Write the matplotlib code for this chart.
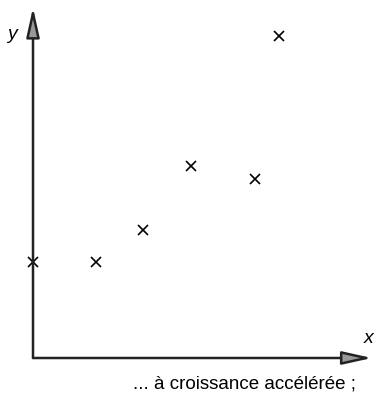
import matplotlib
matplotlib.use("Agg")
import matplotlib.pyplot as plt

# Observations: x and y values
x_vals = [0.0, 1.0, 1.75, 2.5, 3.52, 3.9]
y_vals = [3.0, 3.0, 4.0, 6.0, 5.6, 10.05]

caption = "... à croissance accélérée ;"

fig = plt.figure(figsize=(3.79, 3.98), dpi=100)
ax = fig.add_axes([0, 0, 1, 1])
ax.set_xlim(-33 / 63, 346 / 63)
ax.set_ylim(-40 / 32, 358 / 32)
ax.axis("off")

axis_color = "#5a5a5a"
arrow_kw = dict(arrowstyle="-|>,head_length=1.8,head_width=0.4",
                color=axis_color, lw=1.8, shrinkA=0, shrinkB=0,
                mutation_scale=10, fc="#999999", ec="#222222")
ax.annotate("", xy=(0, 10.95), xytext=(0, 0), arrowprops=arrow_kw)
ax.annotate("", xy=(5.38, 0), xytext=(0, 0), arrowprops=arrow_kw)

ax.plot(x_vals, y_vals, linestyle="none", marker="x", markersize=7.5,
        markeredgewidth=1.2, color="black")

font = ["Liberation Sans Narrow", "Liberation Sans", "DejaVu Sans"]
ax.text(-0.33, 10.1, "y", fontsize=14, style="italic", family=font,
        ha="center", va="center")
ax.text(5.33, 0.62, "x", fontsize=14, style="italic", family=font,
        ha="center", va="center")
ax.text(3.36, -0.8, caption, fontsize=13.5, family=font,
        ha="center", va="center")

fig.savefig("out.png", dpi=100)
